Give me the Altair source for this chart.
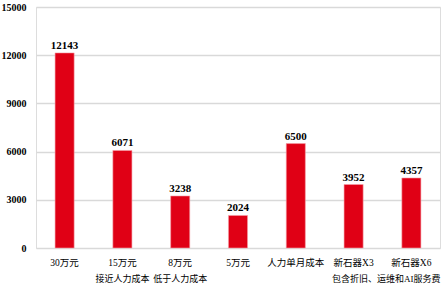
import altair as alt
import pandas as pd

categories = ["30万元", "15万元", "8万元", "5万元", "人力单月成本", "新石器X3", "新石器X6"]
values = [12143, 6071, 3238, 2024, 6500, 3952, 4357]
y_ticks = [0, 3000, 6000, 9000, 12000, 15000]

notes = ["接近人力成本", "低于人力成本", "包含折旧、运维和AI服务费"]
note_cats = ["15万元", "8万元", "新石器X6"]
note_align = ["center", "center", "right"]
note_dx = [0, 0, 29]

df = pd.DataFrame({"cat": categories, "val": values})

font = "Liberation Serif, Noto Sans CJK SC"

x_enc = alt.X("cat:N", sort=categories,
              scale=alt.Scale(paddingInner=0.67, paddingOuter=0.33),
              axis=alt.Axis(title=None, labelAngle=0, ticks=False, domain=False,
                            labelFont=font, labelFontSize=9.5, labelColor="#000",
                            labelPadding=9, labelFontWeight="normal"))

bars = alt.Chart(df).mark_bar(color="#E00015", stroke="#F5A0A8", strokeWidth=0.6).encode(
    x=x_enc,
    y=alt.Y("val:Q", scale=alt.Scale(domain=[0, 15000], nice=False),
            axis=alt.Axis(title=None, values=y_ticks, ticks=False, domain=False,
                          format="d",
                          gridColor="#D9D9D9", gridWidth=1.5,
                          labelFont=font, labelFontSize=10, labelFontWeight="bold",
                          labelColor="#000", labelPadding=10)),
)

labels = alt.Chart(df).mark_text(dy=-7, font=font, fontSize=11, fontWeight="bold", color="#000").encode(
    x=alt.X("cat:N", sort=categories),
    y="val:Q",
    text="val:Q",
)

parts = []
for n, c, a, d in zip(notes, note_cats, note_align, note_dx):
    parts.append(
        alt.Chart(pd.DataFrame({"cat": [c], "note": [n]})).mark_text(
            dx=d, align=a, font=font, fontSize=9, color="#000", baseline="middle").encode(
            x=alt.X("cat:N", sort=categories),
            y=alt.value(272),
            text="note:N",
        )
    )

chart = alt.layer(bars, labels, *parts).properties(
    width=404, height=241,
    autosize=alt.AutoSizeParams(type="none"),
    padding={"left": 36, "top": 7, "right": 3, "bottom": 40},
).configure_view(stroke=None).configure(background="white")

chart.save("out.html", embed_options={"renderer": "svg", "actions": False})
